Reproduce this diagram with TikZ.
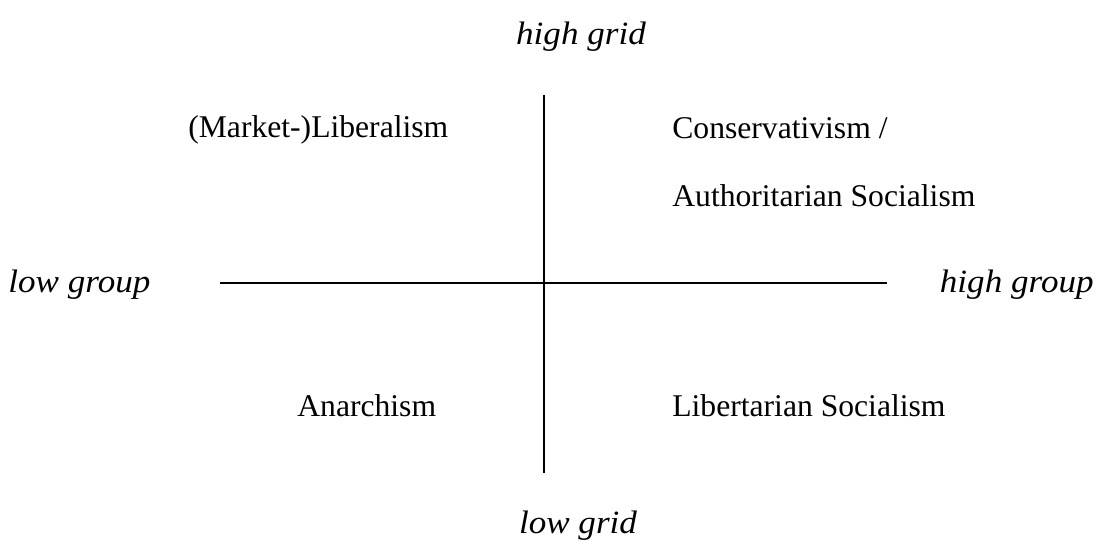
\documentclass[tikz,border=0pt]{standalone}
\usepackage{fontspec}
\setmainfont{Liberation Serif}
\newfontfamily\polefont[FakeStretch=1.08]{Liberation Serif}
\usetikzlibrary{positioning}

\begin{document}
\begin{tikzpicture}[
  x=0.02cm, y=-0.02cm,
  font=\fontsize{18}{39}\selectfont,
  axis/.style={draw=black, line width=0.9pt},
  pole/.style={inner sep=0pt, anchor=base, font=\polefont\fontsize{18.5}{22}\selectfont\itshape},
  camp/.style={inner sep=0pt, anchor=base west, align=left}
]
\useasboundingbox (0,0) rectangle (1102,550);
% axis ends
\coordinate (gtop) at (544,95);
\coordinate (gbot) at (544,473);
\coordinate (gleft) at (220,283);
\coordinate (gright) at (887,283);
\draw[axis] (gtop) -- (gbot);
\draw[axis, line width=1.2pt] (gleft) -- (gright);
% axis labels
\node[pole] (hgrid) at (581,45) {high grid};
\node[pole] (lgrid) at (578,533) {low grid};
\node[pole, anchor=base west] (lgroup) at (8,293) {low group};
\node[pole, anchor=base east] (hgroup) at (1094,293) {high group};
% quadrants
\node[camp] (lib) at (188,138) {(Market-)Liberalism};
\node[camp] (cons) at (672,207) {Conservativism /\\Authoritarian Socialism};
\node[camp] (anar) at (297,417) {Anarchism};
\node[camp] (libsoc) at (672,417) {Libertarian Socialism};
\end{tikzpicture}
\end{document}
